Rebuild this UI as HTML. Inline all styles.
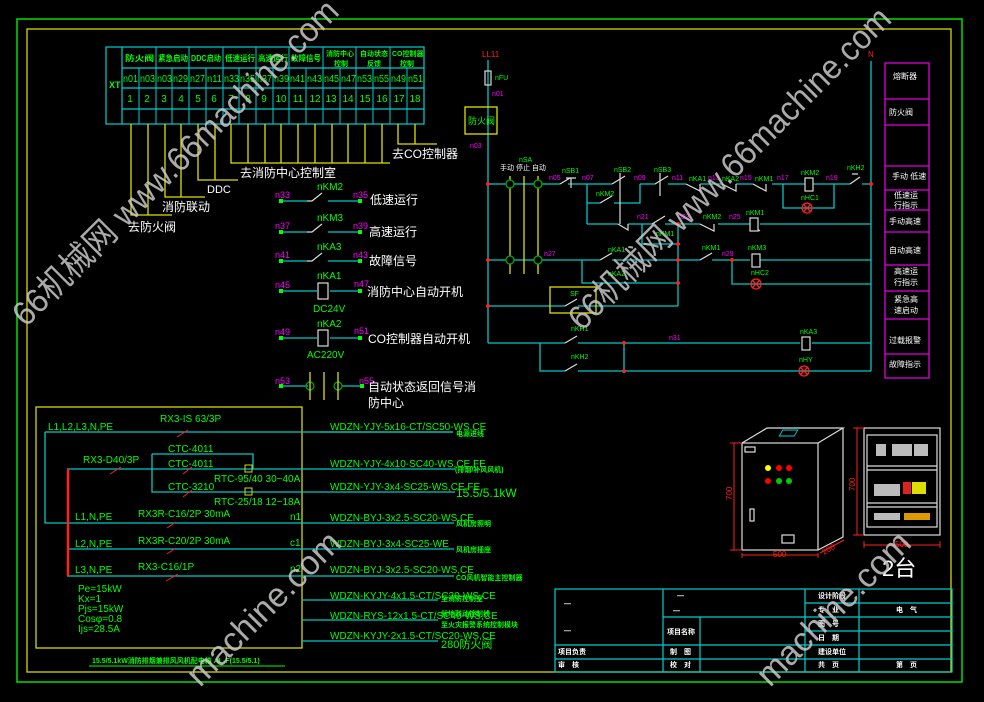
<!DOCTYPE html>
<html><head><meta charset="utf-8"><style>
html,body{margin:0;padding:0;background:#000;width:984px;height:702px;overflow:hidden;}
svg{display:block;overflow:hidden;}
text{font-family:"Liberation Sans","Noto Sans CJK SC",sans-serif;}
.g{fill:#00ff00;font-size:8px;}
.m{fill:#ff00ff;font-size:9px;}
.w{fill:#fff;font-size:12px;}
.c{stroke:#00c8c8;stroke-width:1.3;fill:none;}
.y{stroke:#e0e000;stroke-width:1.3;fill:none;}
.wl{stroke:#ddd;stroke-width:1.2;fill:none;}
.gm{fill:#00ff00;font-size:10px;font-family:"Liberation Mono","Noto Sans CJK SC",monospace;}
</style></head><body>
<svg width="984" height="702" viewBox="0 0 984 702" xmlns="http://www.w3.org/2000/svg">
<rect x="0" y="0" width="984" height="702" fill="#000"/>
<rect x="17" y="19" width="945" height="663" fill="none" stroke="#00e000" stroke-width="1.5"/>
<rect x="27" y="29" width="924" height="643" fill="none" stroke="#d8d800" stroke-width="1.3"/>

<g stroke="#00d0d0" stroke-width="1.2" fill="none">
<rect x="106" y="47" width="318" height="77"/>
<line x1="122" y1="47" x2="122" y2="124"/>
<line x1="122" y1="68" x2="424" y2="68"/>
<line x1="122" y1="88" x2="424" y2="88"/>
<line x1="122" y1="109" x2="424" y2="109"/>
</g>
<g stroke="#00d0d0" stroke-width="1">
<line x1="139" y1="68" x2="139" y2="124"/><line x1="156" y1="47" x2="156" y2="124"/>
<line x1="172" y1="68" x2="172" y2="124"/><line x1="189" y1="47" x2="189" y2="124"/>
<line x1="206" y1="68" x2="206" y2="124"/><line x1="223" y1="47" x2="223" y2="124"/>
<line x1="239" y1="68" x2="239" y2="124"/><line x1="256" y1="47" x2="256" y2="124"/>
<line x1="273" y1="68" x2="273" y2="124"/><line x1="289" y1="47" x2="289" y2="124"/>
<line x1="306" y1="68" x2="306" y2="124"/><line x1="323" y1="47" x2="323" y2="124"/>
<line x1="340" y1="68" x2="340" y2="124"/><line x1="356" y1="47" x2="356" y2="124"/>
<line x1="373" y1="68" x2="373" y2="124"/><line x1="390" y1="47" x2="390" y2="124"/>
<line x1="407" y1="68" x2="407" y2="124"/>
</g>
<g fill="#00ff00" font-size="8" font-weight="bold">
<text x="109" y="88" font-size="9">XT</text>
<text x="125" y="61" textLength="29" lengthAdjust="spacingAndGlyphs">防火阀</text>
<text x="158" y="61" textLength="30" lengthAdjust="spacingAndGlyphs">紧急启动</text>
<text x="191" y="61" textLength="30" lengthAdjust="spacingAndGlyphs">DDC启动</text>
<text x="225" y="61" textLength="30" lengthAdjust="spacingAndGlyphs">低速运行</text>
<text x="258" y="61" textLength="30" lengthAdjust="spacingAndGlyphs">高速运行</text>
<text x="291" y="61" textLength="30" lengthAdjust="spacingAndGlyphs">故障信号</text>
<text x="326" y="56" font-size="7">消防中心</text><text x="334" y="66" font-size="7">控制</text>
<text x="360" y="56" font-size="7">自动状态</text><text x="367" y="66" font-size="7">反馈</text>
<text x="392" y="56" font-size="7">CO控制器</text><text x="400" y="66" font-size="7">控制</text>
</g>
<g class="gm" font-size="9">
<text x="123" y="82" textLength="15" lengthAdjust="spacingAndGlyphs">n01</text><text x="140" y="82" textLength="15" lengthAdjust="spacingAndGlyphs">n03</text><text x="157" y="82" textLength="15" lengthAdjust="spacingAndGlyphs">n03</text><text x="173" y="82" textLength="15" lengthAdjust="spacingAndGlyphs">n29</text>
<text x="190" y="82" textLength="15" lengthAdjust="spacingAndGlyphs">n27</text><text x="207" y="82" textLength="15" lengthAdjust="spacingAndGlyphs">n11</text><text x="224" y="82" textLength="15" lengthAdjust="spacingAndGlyphs">n33</text><text x="240" y="82" textLength="15" lengthAdjust="spacingAndGlyphs">n35</text>
<text x="257" y="82" textLength="15" lengthAdjust="spacingAndGlyphs">n37</text><text x="274" y="82" textLength="15" lengthAdjust="spacingAndGlyphs">n39</text><text x="290" y="82" textLength="15" lengthAdjust="spacingAndGlyphs">n41</text><text x="307" y="82" textLength="15" lengthAdjust="spacingAndGlyphs">n43</text>
<text x="324" y="82" textLength="15" lengthAdjust="spacingAndGlyphs">n45</text><text x="341" y="82" textLength="15" lengthAdjust="spacingAndGlyphs">n47</text><text x="357" y="82" textLength="15" lengthAdjust="spacingAndGlyphs">n53</text><text x="374" y="82" textLength="15" lengthAdjust="spacingAndGlyphs">n55</text>
<text x="391" y="82" textLength="15" lengthAdjust="spacingAndGlyphs">n49</text><text x="408" y="82" textLength="15" lengthAdjust="spacingAndGlyphs">n51</text>
</g>
<g class="gm" font-size="10" text-anchor="middle">
<text x="130" y="102">1</text><text x="147" y="102">2</text><text x="164" y="102">3</text><text x="181" y="102">4</text>
<text x="198" y="102">5</text><text x="214" y="102">6</text><text x="231" y="102">7</text><text x="248" y="102">8</text>
<text x="264" y="102">9</text><text x="281" y="102">10</text><text x="298" y="102">11</text><text x="315" y="102">12</text>
<text x="331" y="102">13</text><text x="348" y="102">14</text><text x="365" y="102">15</text><text x="382" y="102">16</text>
<text x="399" y="102">17</text><text x="415" y="102">18</text>
</g>
<g class="y">
<path d="M131 124V215H172M148 124V215"/>
<path d="M165 124V197H205M181 124V197"/>
<path d="M198 124V180H238M215 124V180"/>
<path d="M231 124V163H390M248 124V163M265 124V163M281 124V163M298 124V163M315 124V163M332 124V163M348 124V163M365 124V163M382 124V163"/>
<path d="M398 124V144H437M415 124V144"/>
</g>
<g class="w" font-size="13">
<text x="128" y="231">去防火阀</text><text x="162" y="211">消防联动</text>
<text x="207" y="193" font-size="11">DDC</text><text x="240" y="177">去消防中心控制室</text>
<text x="392" y="158">去CO控制器</text>
</g>

<g class="c">
<line x1="280" y1="201" x2="307" y2="201"/><line x1="328" y1="201" x2="360" y2="201"/>
<line x1="280" y1="232" x2="307" y2="232"/><line x1="328" y1="232" x2="360" y2="232"/>
<line x1="280" y1="261" x2="307" y2="261"/><line x1="328" y1="261" x2="360" y2="261"/>
<line x1="280" y1="291" x2="317" y2="291"/><line x1="330" y1="291" x2="360" y2="291"/>
<line x1="280" y1="338" x2="317" y2="338"/><line x1="330" y1="338" x2="360" y2="338"/>
<line x1="280" y1="386" x2="308" y2="386"/><line x1="342" y1="386" x2="362" y2="386"/>
</g>
<g class="wl">
<path d="M307 201H312L322 193M307 232H312L322 224M307 261H312L322 253"/>
<rect x="318" y="283" width="10" height="16"/><rect x="318" y="330" width="10" height="16"/>
<circle cx="310" cy="386" r="4" stroke="#0a0"/><circle cx="338" cy="386" r="4" stroke="#0a0"/>
</g>
<g class="y"><line x1="310" y1="372" x2="310" y2="400"/><line x1="324" y1="372" x2="324" y2="400"/><line x1="338" y1="372" x2="338" y2="400"/></g>
<g fill="#00ff00"><rect x="279" y="199" width="4" height="4"/><rect x="358" y="199" width="4" height="4"/><rect x="279" y="230" width="4" height="4"/><rect x="358" y="230" width="4" height="4"/><rect x="279" y="259" width="4" height="4"/><rect x="358" y="259" width="4" height="4"/><rect x="279" y="289" width="4" height="4"/><rect x="358" y="289" width="4" height="4"/><rect x="279" y="336" width="4" height="4"/><rect x="358" y="336" width="4" height="4"/><rect x="279" y="384" width="4" height="4"/><rect x="360" y="384" width="4" height="4"/></g>
<g class="m" font-size="11">
<text x="275" y="198">n33</text><text x="353" y="198">n35</text><text x="275" y="229">n37</text><text x="353" y="229">n39</text>
<text x="275" y="258">n41</text><text x="353" y="258">n43</text><text x="275" y="288">n45</text><text x="354" y="287">n47</text>
<text x="275" y="335">n49</text><text x="354" y="334">n51</text><text x="275" y="384">n53</text><text x="359" y="384">n55</text>
</g>
<g class="gm">
<text x="317" y="190">nKM2</text><text x="317" y="221">nKM3</text><text x="317" y="250">nKA3</text>
<text x="317" y="279">nKA1</text><text x="313" y="312">DC24V</text><text x="317" y="327">nKA2</text><text x="307" y="358">AC220V</text>
</g>
<g class="w">
<text x="370" y="204">低速运行</text><text x="369" y="236">高速运行</text><text x="369" y="265">故障信号</text>
<text x="367" y="296">消防中心自动开机</text><text x="368" y="343">CO控制器自动开机</text>
<text x="368" y="391">自动状态返回信号消</text><text x="368" y="407">防中心</text>
</g>

<g class="c">
<path d="M488 60V343"/>
<path d="M871 61V371"/>
<path d="M488 184H560M568 184H612M640 184H655M668 184H686M700 184H722M736 184H753M772 184H805M813 184H850M862 184H871"/>
<path d="M587 184V224M587 203H600M614 203H640V184M587 224H618M628 224H652M665 224H700M718 224H750M760 224H871"/>
<path d="M642 224V244H678M678 224V306"/>
<path d="M488 260H600M612 260H700M712 260H750M760 260H871"/>
<path d="M582 260V283H678"/>
<path d="M783 184V208H834V184"/>
<path d="M732 260V284H871"/>
<path d="M488 306H565M578 306H678"/>
<path d="M488 343H565M578 343H800M812 343H871"/>
<path d="M540 343V371H565M578 371H871M624 343V371"/>
</g>
<g class="wl">
<rect x="485" y="71" width="6" height="14"/>
<path d="M560 184L570 178M566 178H576M571 178V188"/>
<path d="M612 184L625 176M620 173V224"/>
<path d="M655 184L668 176M660 173V196"/>
<path d="M686 184L700 191V184M722 184L736 191V184M753 184L766 191V184"/>
<rect x="805" y="178" width="8" height="13"/>
<path d="M850 184L860 177M852 174H858"/>
<path d="M600 203L612 196"/>
<path d="M618 224L628 230V224M652 224L665 216M700 224L714 231V224M750 224L760 231"/>
<rect x="750" y="218" width="8" height="13" fill="#000"/>
<path d="M600 260L612 253M700 260L712 253"/>
<rect x="752" y="254" width="8" height="13" fill="#000"/>
<path d="M565 306L577 299M565 343L577 336M565 371L577 364"/>
<rect x="802" y="337" width="8" height="13" fill="#000"/>
</g>
<g fill="none" stroke="#ff2020" stroke-width="1.3">
<circle cx="807" cy="208" r="5"/><path d="M803 204L811 212M811 204L803 212"/>
<circle cx="756" cy="284" r="5"/><path d="M752 280L760 288M760 280L752 288"/>
<circle cx="804" cy="371" r="5"/><path d="M800 367L808 375M808 367L800 375"/>
</g>
<g class="y">
<line x1="510" y1="176" x2="510" y2="274"/><line x1="524" y1="176" x2="524" y2="274"/><line x1="538" y1="176" x2="538" y2="274"/>
<rect x="465" y="107" width="32" height="27"/><rect x="550" y="287" width="46" height="26"/>
</g>
<g fill="#000" stroke="#0a0" stroke-width="1.3">
<circle cx="510" cy="184" r="4"/><circle cx="538" cy="184" r="4"/><circle cx="510" cy="260" r="4"/><circle cx="538" cy="260" r="4"/>
</g>
<g fill="#ff2020">
<circle cx="488" cy="184" r="2"/><circle cx="488" cy="260" r="2"/><circle cx="488" cy="306" r="2"/><circle cx="678" cy="224" r="2"/><circle cx="678" cy="244" r="2"/><circle cx="678" cy="260" r="2"/><circle cx="678" cy="283" r="2"/><circle cx="732" cy="260" r="2"/><circle cx="624" cy="343" r="2"/><circle cx="624" cy="371" r="2"/><circle cx="871" cy="184" r="2"/>
</g>
<g fill="#ff2020" font-size="8"><text x="482" y="57">LL11</text><text x="868" y="57">N</text></g>
<g fill="#00ff00" font-size="7">
<text x="495" y="80">nFU</text><text x="468" y="124" font-size="9">防火阀</text>
<text x="519" y="162">nSA</text><text x="562" y="173">nSB1</text><text x="614" y="172">nSB2</text><text x="654" y="172">nSB3</text>
<text x="689" y="181">nKA1</text><text x="722" y="181">nKA2</text><text x="755" y="181">nKM1</text>
<text x="801" y="175">nKM2</text><text x="847" y="170">nKH2</text><text x="801" y="200">nHC1</text>
<text x="596" y="196">nKM2</text><text x="703" y="219">nKM2</text><text x="746" y="215">nKM1</text>
<text x="656" y="236">nKM1</text><text x="608" y="252">nKA1</text><text x="702" y="250">nKM1</text><text x="748" y="250">nKM3</text>
<text x="608" y="276">nKA2</text><text x="751" y="275">nHC2</text><text x="570" y="296">SF</text>
<text x="571" y="331">nKH1</text><text x="571" y="359">nKH2</text><text x="800" y="334">nKA3</text><text x="799" y="362">nHY</text>
</g>
<g fill="#fff" font-size="7"><text x="500" y="170">手动 停止 自动</text></g>
<g fill="#ff00ff" font-size="7">
<text x="492" y="96">n01</text><text x="470" y="148">n03</text><text x="549" y="180">n05</text><text x="582" y="180">n07</text>
<text x="634" y="180">n09</text><text x="672" y="180">n11</text><text x="708" y="180">n13</text><text x="740" y="180">n15</text>
<text x="777" y="180">n17</text><text x="826" y="180">n19</text><text x="637" y="219">n21</text><text x="678" y="219">n23</text>
<text x="729" y="219">n25</text><text x="544" y="256">n27</text><text x="722" y="256">n29</text><text x="669" y="340">n31</text>
</g>
<g stroke="#e000e0" stroke-width="1.3" fill="none">
<rect x="885" y="63" width="44" height="315"/>
<path d="M885 99H929M885 125H929M885 166H929M885 190H929M885 210H929M885 232H929M885 265H929M885 291H929M885 319H929M885 354H929"/>
</g>
<g fill="#fff" font-size="8">
<text x="893" y="79">熔断器</text><text x="889" y="115">防火阀</text><text x="892" y="179">手动 低速</text>
<text x="894" y="198">低速运</text><text x="894" y="208">行指示</text><text x="889" y="224">手动高速</text><text x="889" y="253">自动高速</text>
<text x="894" y="274">高速运</text><text x="894" y="285">行指示</text><text x="894" y="302">紧急高</text><text x="894" y="313">速启动</text>
<text x="889" y="343">过载报警</text><text x="889" y="367">故障指示</text>
</g>

<rect x="36" y="407" width="266" height="241" fill="none" stroke="#d8d800" stroke-width="1.3"/>
<g class="c">
<path d="M45 432V523H320M45 432H453"/>
<path d="M67 469H320M152 454V492H320M152 454H253V469"/>
<path d="M67 549H320M67 576H320"/>
<path d="M302 600H438M302 620H438M302 641H438"/>
<path d="M320 432H453M320 469H455M320 492H455M320 523H454M320 549H454M320 576H454"/>
</g>
<line x1="68" y1="469" x2="68" y2="576" stroke="#ff2020" stroke-width="2.5"/>
<g stroke="#ff2020" stroke-width="1" fill="none">
<path d="M177 437L188 430M110 474L121 467M183 474L192 467M183 497L192 490M167 528L176 522M167 554L176 548M166 581L178 574"/>
<rect x="245" y="465" width="7" height="7" stroke="#d8d800"/><rect x="245" y="488" width="7" height="7" stroke="#d8d800"/>
</g>
<g class="gm" font-size="10">
<text x="160" y="422">RX3-IS 63/3P</text><text x="48" y="430">L1,L2,L3,N,PE</text>
<text x="83" y="463">RX3-D40/3P</text><text x="168" y="452">CTC-4011</text><text x="168" y="467">CTC-4011</text>
<text x="214" y="482">RTC-95/40 30~40A</text><text x="168" y="490">CTC-3210</text><text x="214" y="505">RTC-25/18 12~18A</text>
<text x="138" y="517">RX3R-C16/2P 30mA</text><text x="75" y="520">L1,N,PE</text><text x="290" y="520">n1</text>
<text x="138" y="544">RX3R-C20/2P 30mA</text><text x="75" y="547">L2,N,PE</text><text x="290" y="546">c1</text>
<text x="138" y="570">RX3-C16/1P</text><text x="75" y="573">L3,N,PE</text><text x="290" y="572">n2</text>
<text x="78" y="592">Pe=15kW</text><text x="78" y="602">Kx=1</text><text x="78" y="612">Pjs=15kW</text>
<text x="78" y="622">Cosφ=0.8</text><text x="78" y="632">Ijs=28.5A</text>
</g>
<g class="gm" font-size="9">
<text x="330" y="430">WDZN-YJY-5x16-CT/SC50-WS,CE</text>
<text x="330" y="467">WDZN-YJY-4x10-SC40-WS,CE,FE</text>
<text x="330" y="490">WDZN-YJY-3x4-SC25-WS,CE,FE</text>
<text x="330" y="521">WDZN-BYJ-3x2.5-SC20-WS,CE</text>
<text x="330" y="547">WDZN-BYJ-3x4-SC25-WE</text>
<text x="330" y="573">WDZN-BYJ-3x2.5-SC20-WS,CE</text>
<text x="330" y="599">WDZN-KYJY-4x1.5-CT/SC20-WS,CE</text>
<text x="330" y="619">WDZN-RYS-12x1.5-CT/SC40-WS,CE</text>
<text x="330" y="639">WDZN-KYJY-2x1.5-CT/SC20-WS,CE</text>
</g>
<g fill="#00ff00" font-size="7" font-weight="bold">
<text x="456" y="436">电源进线</text><text x="455" y="472">(排烟/补风风机)</text><text x="456" y="497" font-size="12" font-weight="normal">15.5/5.1kW</text>
<text x="456" y="526">风机房照明</text><text x="456" y="552">风机房插座</text><text x="456" y="580" font-size="7">CO风机智能主控制器</text>
<text x="441" y="601">至消防控制室</text><text x="441" y="616">就地联动控制线</text><text x="441" y="627">至火灾报警系统控制模块</text>
<text x="441" y="648" font-size="11" font-weight="normal">280防火阀</text>
</g>
<line x1="89" y1="666" x2="285" y2="666" stroke="#00ff00" stroke-width="1"/>
<text x="92" y="663" fill="#00ff00" font-size="7" font-weight="bold">15.5/5.1kW消防排烟兼排风风机配电箱 AL-F(15.5/5.1)</text>

<g class="wl">
<rect x="742" y="443" width="76" height="107"/>
<path d="M742 443L767 428H843L818 443M843 428V537L818 550"/>
<rect x="864" y="428" width="76" height="107"/>
<rect x="867" y="435" width="70" height="92"/>
<path d="M867 466H937M867 470H937M867 503H937M867 507H937"/>
<rect x="745" y="447" width="10" height="5"/><rect x="782" y="535" width="12" height="8"/><rect x="750" y="509" width="4" height="12"/>
</g>
<rect x="781" y="430" width="15" height="6" fill="none" stroke="#00d0d0" transform="skewX(-30) translate(250 0)"/>
<g><circle cx="768" cy="468" r="3" fill="#ff0"/><circle cx="779" cy="468" r="3" fill="#f00"/><circle cx="789" cy="468" r="3" fill="#f00"/>
<circle cx="768" cy="481" r="3" fill="#f00"/><circle cx="779" cy="481" r="3" fill="#0c0"/><circle cx="789" cy="481" r="3" fill="#0c0"/></g>
<g fill="#bbb"><rect x="876" y="444" width="10" height="12"/><rect x="892" y="444" width="20" height="12"/><rect x="914" y="444" width="14" height="12"/>
<rect x="874" y="484" width="26" height="12"/><rect x="903" y="482" width="8" height="12" fill="#d22"/><rect x="912" y="482" width="14" height="12" fill="#dd0"/>
<rect x="874" y="513" width="26" height="7"/><rect x="904" y="513" width="26" height="7" fill="#d90"/></g>
<g stroke="#ff2020" stroke-width="1" fill="none">
<path d="M734 443V550M730 443H742M730 550H742M742 555H818M742 553V558M818 553V558M820 553L844 540"/>
<path d="M857 428V535M853 428H864M853 535H864M864 545H940M864 541V548M940 541V548"/>
</g>
<g fill="#ff2020" font-size="8">
<text x="732" y="500" transform="rotate(-90 732 500)">700</text><text x="773" y="557">500</text>
<text x="824" y="555" transform="rotate(-30 824 555)">200</text>
<text x="855" y="491" transform="rotate(-90 855 491)">700</text><text x="895" y="547">500</text>
</g>
<text x="882" y="576" fill="#fff" font-size="22" font-family="'Liberation Serif','Noto Serif CJK SC',serif">2台</text>

<g stroke="#00d0d0" stroke-width="1.2" fill="none">
<rect x="555" y="589" width="397" height="83"/>
<path d="M663 589V672M700 617V672M805 589V672M859 589V672"/>
<path d="M663 617H805M805 603H952M805 617H952M805 631H952M555 645H952M555 659H952"/>
</g>
<g fill="#fff" font-size="7" font-weight="bold">
<text x="564" y="606">—</text><text x="564" y="633">—</text><text x="677" y="598">—</text><text x="673" y="613">—</text>
<text x="667" y="634">项目名称</text><text x="558" y="654">项目负责</text><text x="558" y="667">审　核</text>
<text x="670" y="654">制　图</text><text x="670" y="667">校　对</text>
<text x="818" y="598">设计阶段</text><text x="818" y="612">专　业</text><text x="896" y="612">电　气</text>
<text x="818" y="626">图　号</text><text x="818" y="640">日　期</text><text x="818" y="654">建设单位</text>
<text x="818" y="667">共　页</text><text x="896" y="667">第　页</text>
</g>

<g fill="#c8c8c8" fill-opacity="0.85" font-size="34" font-family="'Liberation Sans','Noto Sans CJK SC',sans-serif">
<text x="26" y="328" transform="rotate(-45 26 328)" textLength="445" lengthAdjust="spacingAndGlyphs">66机械网 www.66machine.com</text>
<text x="582" y="332" transform="rotate(-45 582 332)" textLength="440" lengthAdjust="spacingAndGlyphs">66机械网 www.66machine.com</text>
<text x="200" y="688" transform="rotate(-45 200 688)">machine.com</text>
<text x="770" y="688" transform="rotate(-45 770 688)">machine.com</text>
</g>
</svg>
</body></html>
